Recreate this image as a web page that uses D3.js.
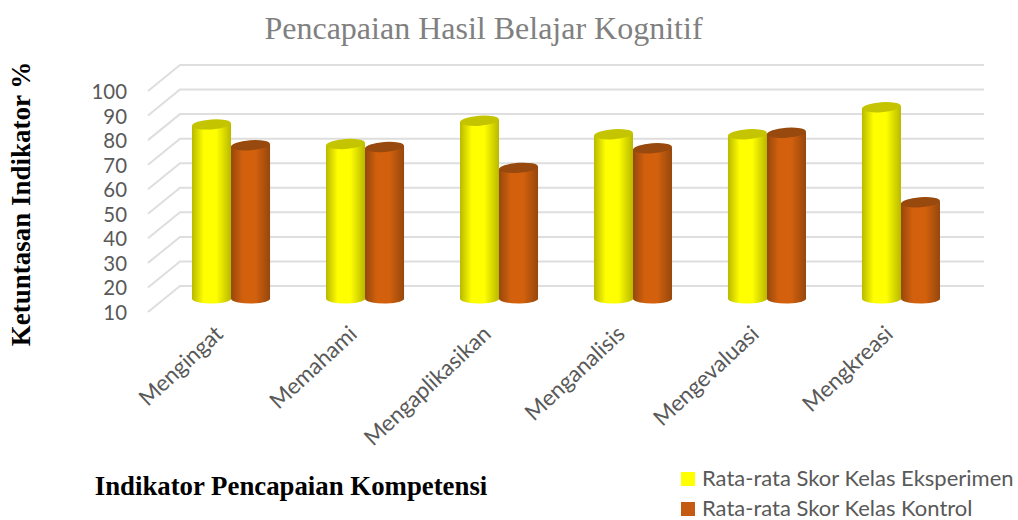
<!DOCTYPE html>
<html lang="en">

<head>
    <meta charset="utf-8">
    <script src="https://d3js.org/d3.v7.min.js"></script>
    <style>
        html, body { margin: 0; padding: 0; background: #fff; }
        svg { display: block; }
        .tick-label { font-family: Lato; fill: #595959; }
    </style>
</head>

<body>
    <script>
        const categories = ["Mengingat", "Memahami", "Mengaplikasikan", "Menganalisis", "Mengevaluasi", "Mengkreasi"];
        const seriesNames = ["Rata-rata Skor Kelas Eksperimen", "Rata-rata Skor Kelas Kontrol"];
        const eksperimen = [80.7, 72.7, 82.2, 76.7, 76.7, 87.7];
        const kontrol = [72.2, 71.5, 63, 71, 77.3, 49];
        const yTicks = [10, 20, 30, 40, 50, 60, 70, 80, 90, 100];

        const width = 1018;
        const height = 520;

        // back wall is shifted from the front axis, bars stand half way
        const depthX = 32;
        const depthY = 26;

        const svg = d3.select("body").append("svg")
            .attr("width", width)
            .attr("height", height);

        const defs = svg.append("defs");
        defs.append("filter").attr("id", "soft")
            .append("feGaussianBlur").attr("stdDeviation", 0.7);

        const colors = [
            { edge: "#b8b800", mid: "#ffff00", top: "#c4c400" },
            { edge: "#964808", mid: "#d2600f", top: "#984808" }
        ];
        colors.forEach((c, i) => {
            const g = defs.append("linearGradient").attr("id", "cyl" + i);
            g.append("stop").attr("offset", "0%").attr("stop-color", c.edge);
            g.append("stop").attr("offset", "30%").attr("stop-color", c.mid);
            g.append("stop").attr("offset", "62%").attr("stop-color", c.mid);
            g.append("stop").attr("offset", "100%").attr("stop-color", c.edge);
        });

        const y = d3.scaleLinear().domain([10, 100]).range([286, 65]);
        const x = d3.scaleBand()
            .domain(categories)
            .range([164, 968])
            .paddingInner(0.4175)
            .paddingOuter(0.209);
        const xInner = d3.scaleBand().domain([0, 1]).range([0, x.bandwidth()]);

        // gridlines
        const grid = svg.append("g").attr("filter", "url(#soft)");
        grid.selectAll("path")
            .data(yTicks)
            .enter()
            .append("path")
            .attr("d", d => d3.line()([[180 - depthX, y(d) + depthY], [180, y(d)], [984, y(d)]]))
            .attr("fill", "none")
            .attr("stroke", "#dedede")
            .attr("stroke-width", 2);

        // y axis sits on the front edge
        const yAxis = svg.append("g")
            .attr("transform", "translate(127," + (depthY + 1) + ")")
            .call(d3.axisLeft(y).tickValues(yTicks).tickSize(0).tickPadding(0));
        yAxis.select(".domain").remove();
        yAxis.selectAll("text")
            .attr("class", "tick-label")
            .style("font-size", "20.4px");

        // cylinders
        const baseY = y(10) + depthY / 2;
        const ry = 5;
        const bars = svg.append("g").attr("filter", "url(#soft)");
        [eksperimen, kontrol].forEach((values, s) => {
            const g = bars.selectAll(".s" + s)
                .data(values)
                .enter()
                .append("g")
                .attr("class", "s" + s)
                .attr("transform", (d, i) => "translate(" + (x(categories[i]) + xInner(s)) + ",0)");
            const w = xInner.bandwidth();
            g.append("path")
                .attr("d", d => {
                    const top = y(d) + depthY / 2;
                    return "M0," + top + "L0," + baseY
                        + "A" + w / 2 + "," + ry + " 0 0 0 " + w + "," + (baseY - 1)
                        + "L" + w + "," + (top - 2) + "Z";
                })
                .attr("fill", "url(#cyl" + s + ")");
            g.append("ellipse")
                .attr("cx", w / 2)
                .attr("cy", d => y(d) + depthY / 2 - 1)
                .attr("rx", w / 2)
                .attr("ry", ry)
                .attr("transform", d => "rotate(-4," + w / 2 + "," + (y(d) + depthY / 2 - 1) + ")")
                .attr("fill", colors[s].top);
        });

        // category labels
        const xAxis = svg.append("g")
            .attr("transform", "translate(0,330)")
            .call(d3.axisBottom(x).tickSize(0).tickPadding(0));
        xAxis.select(".domain").remove();
        xAxis.selectAll("text")
            .attr("class", "tick-label")
            .style("font-size", "22.4px")
            .attr("text-anchor", "end")
            .attr("dy", "0.35em")
            .attr("transform", "translate(-12,0) rotate(-43)");

        // titles
        svg.append("text")
            .text("Pencapaian Hasil Belajar Kognitif")
            .attr("x", 483.5)
            .attr("y", 39)
            .attr("text-anchor", "middle")
            .style("font-family", "Liberation Serif")
            .style("font-size", "32px")
            .attr("fill", "#808080");

        svg.append("text")
            .text("Ketuntasan Indikator %")
            .attr("transform", "translate(30,204) rotate(-90)")
            .attr("text-anchor", "middle")
            .style("font-family", "Liberation Serif")
            .style("font-weight", "bold")
            .style("font-size", "27px");

        svg.append("text")
            .text("Indikator Pencapaian Kompetensi")
            .attr("x", 291)
            .attr("y", 495)
            .attr("text-anchor", "middle")
            .style("font-family", "Liberation Serif")
            .style("font-weight", "bold")
            .style("font-size", "26.8px");

        // legend
        const legend = svg.selectAll(".legend")
            .data(seriesNames)
            .enter()
            .append("g")
            .attr("class", "legend")
            .attr("transform", (d, i) => "translate(681," + (472 + i * 30) + ")");
        legend.append("rect")
            .attr("width", 14)
            .attr("height", 14)
            .attr("fill", (d, i) => i === 0 ? "#ffff00" : "#c55a11");
        legend.append("text")
            .text(d => d)
            .attr("x", 21)
            .attr("y", 14)
            .attr("class", "tick-label")
            .style("font-size", "22px");
    </script>
</body>

</html>
